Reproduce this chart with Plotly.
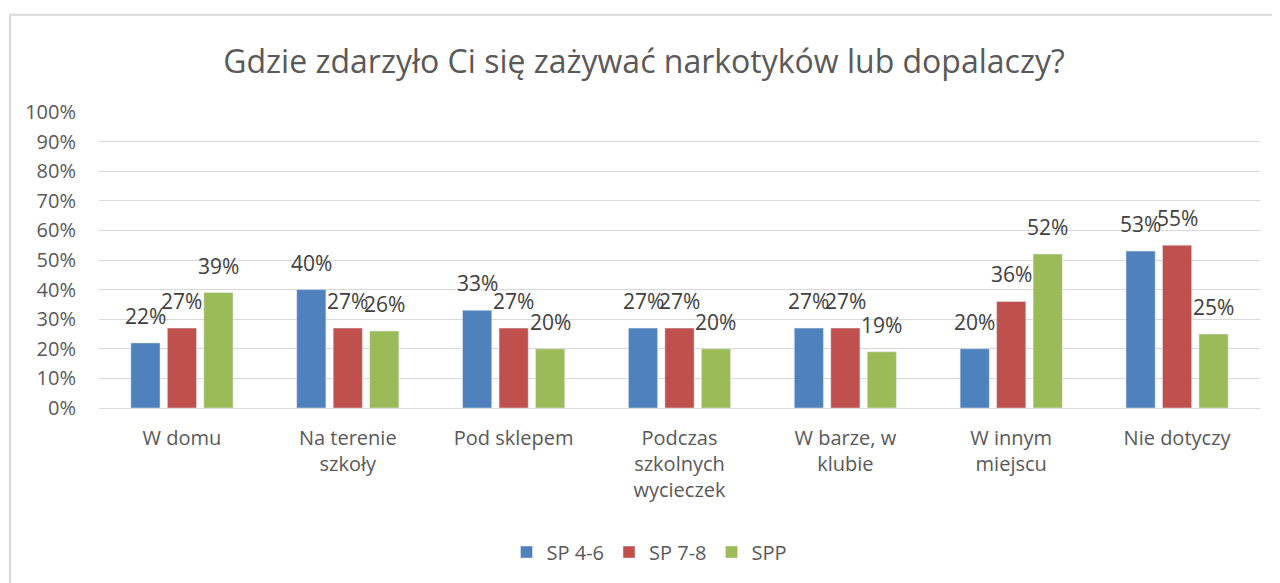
import plotly.graph_objects as go

categories = ["W domu", "Na terenie<br>szkoły", "Pod sklepem", "Podczas<br>szkolnych<br>wycieczek",
              "W barze, w<br>klubie", "W innym<br>miejscu", "Nie dotyczy"]
series_names = ["SP 4-6", "SP 7-8", "SPP"]
sp46 = [22, 40, 33, 27, 27, 20, 53]
sp78 = [27, 27, 27, 27, 27, 36, 55]
spp = [39, 26, 20, 20, 19, 52, 25]
colors = ["#4F81BD", "#C0504D", "#9BBB59"]
y_ticks = [0, 10, 20, 30, 40, 50, 60, 70, 80, 90, 100]
y_tick_labels = [f"{v}%" for v in y_ticks]

FONT = "Open Sans"
W, H = 1272, 575
L, R, T, B = 91, 20, 104, 173
PW, PH = W - L - R, H - T - B
BARGAP = 0.34
slot_px = (1 - BARGAP) * PW / len(categories) / len(series_names)

fig = go.Figure()
annotations = []
all_series = [sp46, sp78, spp]
for i, (name, vals, col) in enumerate(zip(series_names, all_series, colors)):
    fig.add_trace(go.Bar(x=categories, y=vals, name=name, marker_color=col))
    for c, v in zip(categories, vals):
        annotations.append(dict(
            x=c, y=v, xref="x", yref="y", text=f"{v}%", showarrow=False,
            xanchor="center", yanchor="bottom",
            xshift=(i - (len(series_names) - 1) / 2) * slot_px, yshift=11,
            font=dict(family=FONT, size=21, color="#404040"),
        ))

fig.update_layout(
    width=W, height=H,
    paper_bgcolor="white", plot_bgcolor="white",
    margin=dict(l=L, r=R, t=T, b=B),
    barmode="group", bargap=BARGAP, bargroupgap=0.2,
    title=dict(text="Gdzie zdarzyło Ci się zażywać narkotyków lub dopalaczy?",
               x=0.5, xanchor="center", y=1 - 54 / H, yanchor="middle",
               font=dict(family=FONT, size=32, color="#595959")),
    font=dict(family=FONT, color="#595959"),
    showlegend=True,
    legend=dict(orientation="h", x=0.5 - 30 / PW, xanchor="center", y=(H - B - 547) / PH, yanchor="middle",
                font=dict(family=FONT, size=20, color="#595959"), traceorder="normal"),
    xaxis=dict(tickfont=dict(family=FONT, size=20, color="#595959"), showgrid=False,
               showline=True, linecolor="#d9d9d9", linewidth=1, ticks="", ticklabelstandoff=12),
    yaxis=dict(range=[0, 100], tickvals=y_ticks, ticktext=y_tick_labels,
               tickfont=dict(family=FONT, size=20, color="#595959"),
               showgrid=True, gridcolor="#d9d9d9", gridwidth=1, zeroline=False,
               showline=False, ticks="", ticklabelstandoff=22),
    annotations=annotations,
    shapes=[dict(type="rect", xref="paper", yref="paper",
                 x0=(2 - L) / PW, x1=(W + 30 - L) / PW,
                 y0=(H - B - H - 40) / PH, y1=(H - B - 6) / PH,
                 line=dict(color="#d9d9d9", width=2), fillcolor="rgba(0,0,0,0)", layer="below")],
)

fig.write_html("out.html")
